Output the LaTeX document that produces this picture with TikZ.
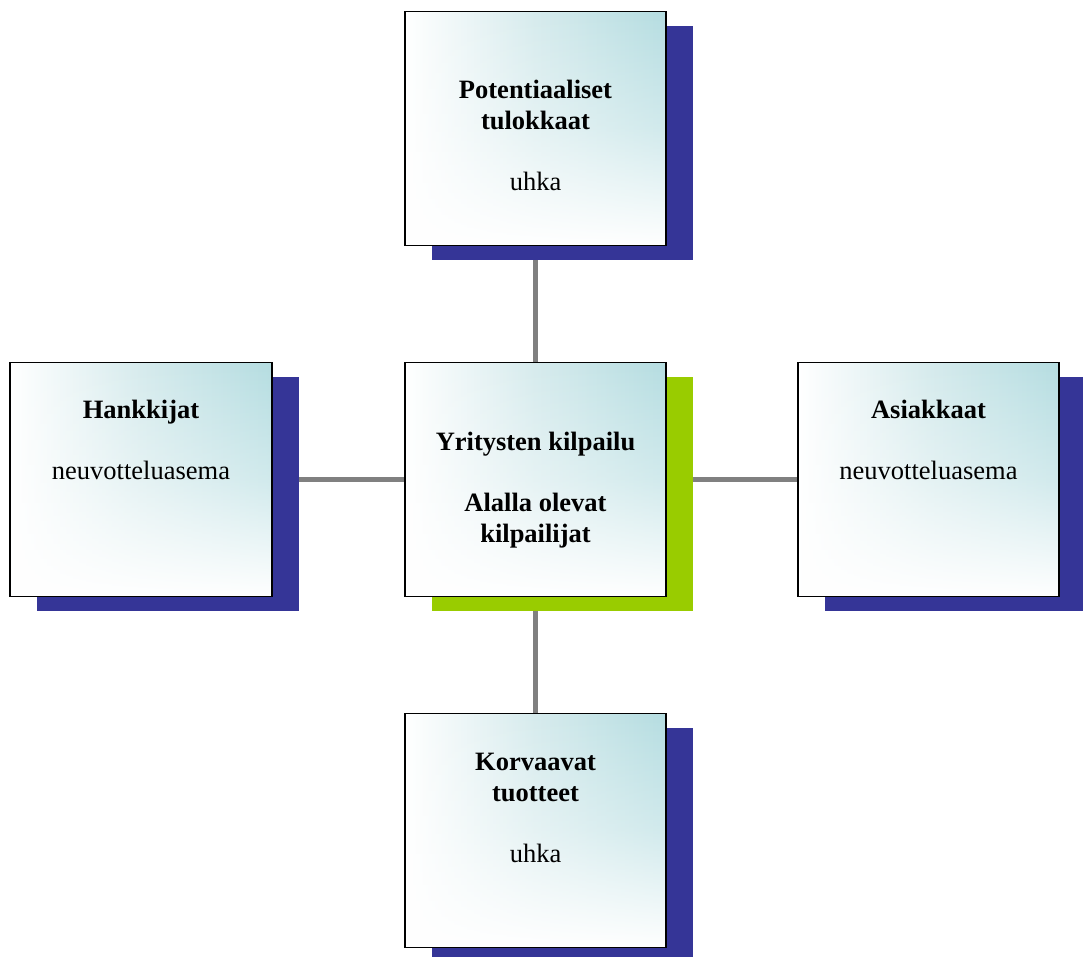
\documentclass[tikz,border=0pt]{standalone}
\usepackage{fontspec}
\setmainfont{Liberation Serif}
\usetikzlibrary{shadows,backgrounds,fadings}
\definecolor{shblue}{HTML}{353597}
\definecolor{shgreen}{HTML}{99CC00}
\definecolor{boxcyan}{HTML}{B5DDE1}
\definecolor{boxmid}{HTML}{D6EBED}
\definecolor{linegray}{HTML}{808080}
\tikzfading[name=fadeup, bottom color=transparent!0, top color=transparent!100, middle color=transparent!62]
\tikzset{
  forcebox/.style={rectangle, draw=black, line width=1.6pt,
    minimum width=261.5pt, minimum height=234pt, inner sep=0pt, fill=white,
    path picture={
      \shade[left color=white, right color=boxcyan, middle color=boxmid]
        (path picture bounding box.south west) rectangle (path picture bounding box.north east);
      \fill[white, path fading=fadeup]
        (path picture bounding box.south west) rectangle (path picture bounding box.north east);
    }},
  blueshadow/.style={general shadow={fill=shblue, shadow xshift=27pt, shadow yshift=-14pt}},
  greenshadow/.style={general shadow={fill=shgreen, shadow xshift=27pt, shadow yshift=-14pt}},
  boxtext/.style={anchor=base, align=center, inner sep=0pt,
    font=\fontsize{26.5}{30.5}\selectfont},
  conn/.style={draw=linegray, line width=5pt}
}
\begin{document}
\begin{tikzpicture}[x=1pt,y=-1pt]
\useasboundingbox (0,0) rectangle (1083,956);
\node[forcebox, blueshadow] (t) at (535.5,128.5) {};
\node[forcebox, blueshadow] (l) at (141,479.5) {};
\node[forcebox, greenshadow] (c) at (535.5,479.5) {};
\node[forcebox, blueshadow] (r) at (928.5,479.5) {};
\node[forcebox, blueshadow] (b) at (535.5,830.5) {};
\begin{scope}[on background layer]
\draw[conn] (c.center) -- (t.center);
\draw[conn] (c.center) -- (l.center);
\draw[conn] (c.center) -- (r.center);
\draw[conn] (c.center) -- (b.center);
\end{scope}
\node[boxtext] (ttxt) at (535.5,190) {\textbf{Potentiaaliset}\\\textbf{tulokkaat}\\[30.5pt]uhka};
\node[boxtext] (ltxt) at (141,479) {\textbf{Hankkijat}\\[30.5pt]neuvotteluasema};
\node[boxtext] (ctxt) at (535.5,542) {\textbf{Yritysten kilpailu}\\[30.5pt]\textbf{Alalla olevat}\\\textbf{kilpailijat}};
\node[boxtext] (rtxt) at (928.5,479) {\textbf{Asiakkaat}\\[30.5pt]neuvotteluasema};
\node[boxtext] (btxt) at (535.5,862) {\textbf{Korvaavat}\\\textbf{tuotteet}\\[30.5pt]uhka};
\end{tikzpicture}
\end{document}
